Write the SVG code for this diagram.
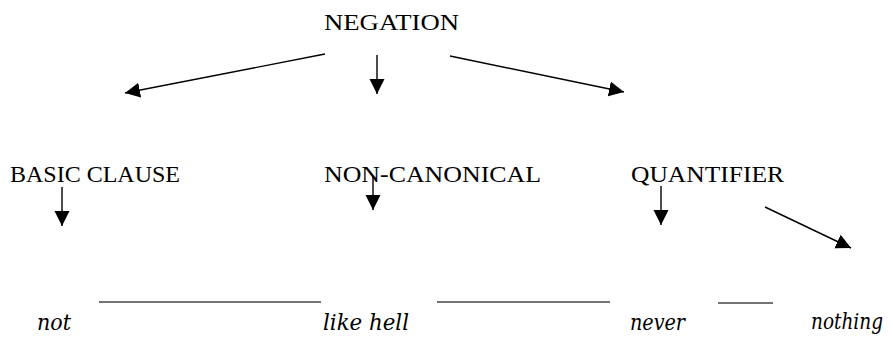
<svg xmlns="http://www.w3.org/2000/svg" width="893" height="338" viewBox="0 0 893 338">
<style>
.t{font-family:"Liberation Serif","Times New Roman",serif;font-size:24px;fill:#000}
.i{font-family:"DejaVu Serif","Liberation Serif",serif;font-size:22px;font-style:italic;fill:#000}
.a{stroke:#000;stroke-width:1.4;fill:none;marker-end:url(#ah)}
.r{stroke:#444;stroke-width:1.5}
</style>
<defs>
<marker id="ah" markerUnits="userSpaceOnUse" markerWidth="16" markerHeight="16" refX="15" refY="7.5" orient="auto" viewBox="0 0 16 16">
<path d="M0,0 L15,7.5 L0,15 z" fill="#000"/>
</marker>
</defs>
<rect width="893" height="338" fill="#fff"/>
<g id="negation"><text class="t" x="324" y="30" textLength="135" lengthAdjust="spacingAndGlyphs">NEGATION</text></g>
<g id="basic-clause"><text class="t" x="10" y="182" textLength="170" lengthAdjust="spacingAndGlyphs">BASIC CLAUSE</text></g>
<g id="non-canonical"><text class="t" x="324" y="182" textLength="217" lengthAdjust="spacingAndGlyphs">NON-CANONICAL</text></g>
<g id="quantifier"><text class="t" x="631" y="182" textLength="153" lengthAdjust="spacingAndGlyphs">QUANTIFIER</text></g>
<g id="not"><text class="i" x="37" y="330" textLength="34" lengthAdjust="spacingAndGlyphs">not</text></g>
<g id="like-hell"><text class="i" x="323" y="330" textLength="86" lengthAdjust="spacingAndGlyphs">like hell</text></g>
<g id="never"><text class="i" x="630" y="330" textLength="55" lengthAdjust="spacingAndGlyphs">never</text></g>
<g id="nothing"><text class="i" x="811" y="329" textLength="72" lengthAdjust="spacingAndGlyphs">nothing</text></g>
<g id="connectors">
<line class="a" x1="325" y1="54" x2="125" y2="93"/>
<line class="a" x1="377" y1="55" x2="377" y2="94"/>
<line class="a" x1="450" y1="56" x2="624" y2="92"/>
<line class="a" x1="62" y1="187" x2="62" y2="226"/>
<line class="a" x1="373" y1="176" x2="373" y2="210"/>
<line class="a" x1="661" y1="186" x2="661" y2="225"/>
<line class="a" x1="765" y1="207" x2="851" y2="248"/>
<line class="r" x1="99" y1="302" x2="321" y2="302"/>
<line class="r" x1="437" y1="302" x2="610" y2="302"/>
<line class="r" x1="718" y1="303" x2="773" y2="303"/>
</g>
</svg>
